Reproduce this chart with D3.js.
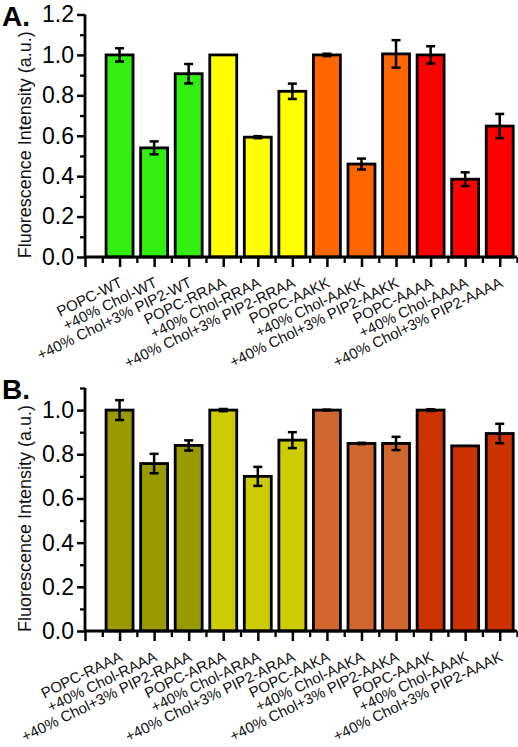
<!DOCTYPE html>
<html><head><meta charset="utf-8">
<script src="https://cdn.jsdelivr.net/npm/d3@7"></script>
<style>body{margin:0;background:#fff}svg{display:block}text{font-family:"Liberation Sans",Arial,sans-serif}</style>
</head><body>
<script>
const catsA = ["POPC-WT","+40% Chol-WT","+40% Chol+3% PIP2-WT","POPC-RRAA","+40% Chol-RRAA","+40% Chol+3% PIP2-RRAA","POPC-AAKK","+40% Chol-AAKK","+40% Chol+3% PIP2-AAKK","POPC-AAAA","+40% Chol-AAAA","+40% Chol+3% PIP2-AAAA"];
const valuesA = [1.0,0.54,0.907,1.0,0.593,0.82,1.0,0.46,1.005,1.0,0.385,0.648];
const errorsA = [0.033,0.032,0.048,0,0.005,0.038,0.006,0.027,0.068,0.043,0.034,0.06];
const colorsA = ["#33ee11","#ffff00","#ff6600","#ff0000"];
const yTicksA = [0,0.2,0.4,0.6,0.8,1.0,1.2];

const catsB = ["POPC-RAAA","+40% Chol-RAAA","+40% Chol+3% PIP2-RAAA","POPC-ARAA","+40% Chol-ARAA","+40% Chol+3% PIP2-ARAA","POPC-AAKA","+40% Chol-AAKA","+40% Chol+3% PIP2-AAKA","POPC-AAAK","+40% Chol-AAAK","+40% Chol+3% PIP2-AAAK"];
const valuesB = [1.0,0.758,0.84,1.0,0.70,0.864,1.0,0.849,0.849,1.0,0.838,0.894];
const errorsB = [0.045,0.044,0.023,0.005,0.043,0.036,0.002,0.003,0.03,0.004,0,0.044];
const colorsB = ["#999900","#cccc00","#d0672f","#cc3300"];
const yTicksB = [0,0.2,0.4,0.6,0.8,1.0];

const yTitle = "Fluorescence Intensity (a.u.)";

const W = 518, H = 747;
const svg = d3.select("body").append("svg").attr("width", W).attr("height", H);

function panel(opts){
  const {cats, values, errors, colors, yMax, yTicks, yMinor, top, bottom, letter, letterY} = opts;
  const g = svg.append("g");
  const x = d3.scaleLinear().domain([0, 12.5]).range([85, 517]);
  const y = d3.scaleLinear().domain([0, yMax]).range([bottom, top]);
  const bw = (x(1) - x(0)) * 0.78;

  g.selectAll("rect.bar").data(values).join("rect")
    .attr("x", (d,i) => x(i+1) - bw/2)
    .attr("y", d => y(d))
    .attr("width", bw)
    .attr("height", d => y(0) - y(d))
    .attr("fill", (d,i) => colors[Math.floor(i/3)])
    .attr("stroke", "#000").attr("stroke-width", 2.8);

  const eb = g.append("g").attr("stroke", "#000").attr("stroke-width", 2.5);
  values.forEach((v,i) => {
    const e = errors[i];
    if (!e) return;
    const cx = x(i+1);
    eb.append("line").attr("x1", cx).attr("x2", cx).attr("y1", y(v+e)).attr("y2", y(v-e));
    eb.append("line").attr("x1", cx-4.5).attr("x2", cx+4.5).attr("y1", y(v+e)).attr("y2", y(v+e));
    eb.append("line").attr("x1", cx-4.5).attr("x2", cx+4.5).attr("y1", y(v-e)).attr("y2", y(v-e));
  });

  const ya = g.append("g").attr("transform", `translate(${x(0)},0)`)
    .call(d3.axisLeft(y).tickValues(yTicks).tickFormat(d3.format(".1f")).tickSize(8).tickPadding(3));
  ya.select(".domain").attr("stroke-width", 2.8).attr("d", `M0,${y(0)+1}V${y(yMax)}`);
  ya.selectAll(".tick line").attr("stroke-width", 2.5);
  ya.selectAll(".tick text").attr("font-size", 23).attr("fill", "#000").attr("font-family", '"Liberation Sans",Arial,sans-serif');
  const ym = g.append("g").attr("transform", `translate(${x(0)},0)`)
    .call(d3.axisLeft(y).tickValues(yMinor).tickFormat("").tickSize(5));
  ym.select(".domain").remove();
  ym.selectAll(".tick line").attr("stroke-width", 2.3);

  const xa = g.append("g").attr("transform", `translate(0,${y(0)})`)
    .call(d3.axisBottom(x).tickValues(d3.range(0, 13, 1)).tickFormat("").tickSize(10));
  xa.select(".domain").attr("stroke-width", 2.8).attr("d", `M${x(0)},0H${x(12.5)}`);
  xa.selectAll(".tick line").attr("stroke-width", 2.5);
  const xm = g.append("g").attr("transform", `translate(0,${y(0)})`)
    .call(d3.axisBottom(x).tickValues(d3.range(0.5, 13, 1)).tickFormat("").tickSize(6));
  xm.select(".domain").remove();
  xm.selectAll(".tick line").attr("stroke-width", 2.3);

  g.selectAll("text.cat").data(cats).join("text")
    .attr("class", "cat")
    .attr("transform", (d,i) => `translate(${x(i+1)+4},${y(0)+29}) rotate(-26)`)
    .attr("text-anchor", "end")
    .attr("font-size", 15)
    .attr("fill", "#111")
    .text(d => d);

  g.append("text")
    .attr("transform", `translate(31,${(top+bottom)/2 + 9}) rotate(-90)`)
    .attr("text-anchor", "middle")
    .attr("font-size", 18)
    .attr("fill", "#111")
    .text(yTitle);

  g.append("text").attr("x", 2).attr("y", letterY)
    .attr("font-size", 28).attr("font-weight", "bold").attr("fill", "#000")
    .text(letter);
}

panel({cats: catsA, values: valuesA, errors: errorsA, colors: colorsA, yMax: 1.2,
  yTicks: yTicksA, yMinor: [0.1,0.3,0.5,0.7,0.9,1.1], top: 14.5, bottom: 257, letter: "A.", letterY: 26});
panel({cats: catsB, values: valuesB, errors: errorsB, colors: colorsB, yMax: 1.1,
  yTicks: yTicksB, yMinor: [0.1,0.3,0.5,0.7,0.9,1.1], top: 388, bottom: 631, letter: "B.", letterY: 399});
</script>
</body></html>
